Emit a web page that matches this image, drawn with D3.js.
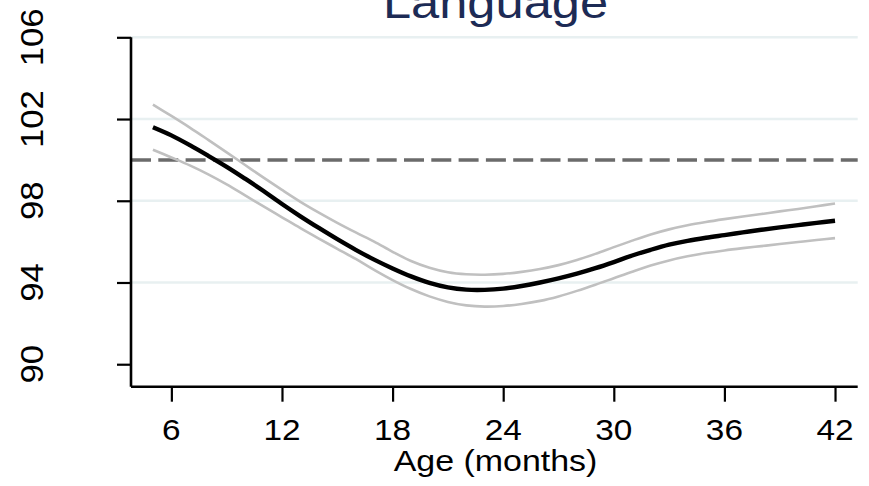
<!DOCTYPE html>
<html>
<head>
<meta charset="utf-8">
<script src="https://cdn.jsdelivr.net/npm/d3@7"></script>
<style>
  body { margin: 0; background: #fff; }
  text { font-family: "Liberation Sans", Arial, sans-serif; }
</style>
</head>
<body>
<div id="chart"></div>
<script>
// age in months, fitted score and its confidence band
var months = [5, 6, 7, 8, 9, 10, 11, 12, 13, 14, 15, 16, 17, 18, 19, 20, 21, 22, 23,
  24, 25, 26, 27, 28, 29, 30, 31, 32, 33, 34, 35, 36, 37, 38, 39, 40, 41, 42];
var fitted = [101.6, 101.2, 100.72, 100.2, 99.66, 99.08, 98.48, 97.84, 97.24, 96.67, 96.12,
  95.6, 95.12, 94.69, 94.3, 93.98, 93.76, 93.65, 93.64, 93.7, 93.83, 94.0, 94.2, 94.43,
  94.7, 95.0, 95.32, 95.6, 95.85, 96.04, 96.19, 96.32, 96.45, 96.58, 96.7, 96.81, 96.92, 97.02];
var upper = [102.7, 102.15, 101.58, 100.98, 100.37, 99.75, 99.13, 98.53, 97.95, 97.42, 96.92,
  96.45, 96.0, 95.5, 95.05, 94.72, 94.5, 94.4, 94.38, 94.42, 94.52, 94.66, 94.85, 95.1,
  95.4, 95.73, 96.05, 96.35, 96.6, 96.8, 96.96, 97.1, 97.23, 97.35, 97.48, 97.6, 97.73, 97.87];
var lower = [100.5, 100.12, 99.73, 99.29, 98.8, 98.26, 97.72, 97.19, 96.66, 96.15, 95.65,
  95.15, 94.62, 94.12, 93.68, 93.32, 93.05, 92.88, 92.82, 92.85, 92.95, 93.1, 93.32, 93.59,
  93.89, 94.21, 94.53, 94.83, 95.08, 95.28, 95.44, 95.57, 95.68, 95.78, 95.88, 95.98, 96.08, 96.17];
var reference = 100;
var xTicks = [6, 12, 18, 24, 30, 36, 42];
var yTicks = [90, 94, 98, 102, 106];
var gridTicks = [94, 98, 102, 106];

var width = 869, height = 486;
var plotLeft = 131, plotRight = 857.7, plotTop = 37.3, plotBottom = 386.7;

var svg = d3.select("#chart").append("svg")
  .attr("width", width)
  .attr("height", height);

var x = d3.scaleLinear().domain([3.81, 43.23]).range([plotLeft, plotRight]);
var y = d3.scaleLinear().domain([88.9, 106]).range([plotBottom, plotTop]);

// gridlines
svg.selectAll("line.grid").data(gridTicks).enter().append("line")
  .attr("class", "grid")
  .attr("x1", plotLeft).attr("x2", plotRight)
  .attr("y1", function(d) { return y(d); })
  .attr("y2", function(d) { return y(d); })
  .style("stroke", "#e8f0f1")
  .style("stroke-width", 2.5);

// reference line
svg.append("line")
  .attr("x1", plotLeft).attr("x2", plotRight)
  .attr("y1", y(reference)).attr("y2", y(reference))
  .style("stroke", "#6b6b6b")
  .style("stroke-width", 3.5)
  .style("stroke-dasharray", "20,7.3");

var line = function(vals) {
  return d3.line()
    .x(function(d, i) { return x(months[i]); })
    .y(function(d) { return y(d); })
    .curve(d3.curveCatmullRom)(vals);
};

[upper, lower].forEach(function(band) {
  svg.append("path")
    .attr("d", line(band))
    .style("fill", "none")
    .style("stroke", "#c0c0c0")
    .style("stroke-width", 2.6);
});

svg.append("path")
  .attr("d", line(fitted))
  .style("fill", "none")
  .style("stroke", "#000")
  .style("stroke-width", 4.4);

// axes
var xAxis = svg.append("g")
  .attr("transform", "translate(0," + plotBottom + ")")
  .call(d3.axisBottom(x).tickValues(xTicks).tickSize(15).tickFormat(""));
var yAxis = svg.append("g")
  .attr("transform", "translate(" + plotLeft + ",0)")
  .call(d3.axisLeft(y).tickValues(yTicks).tickSize(14).tickFormat(""));
[xAxis, yAxis].forEach(function(ax) {
  ax.select(".domain").remove();
  ax.selectAll(".tick line").style("stroke", "#000").style("stroke-width", 2.2);
});
svg.append("line")
  .attr("x1", plotLeft).attr("x2", plotRight).attr("y1", plotBottom).attr("y2", plotBottom)
  .style("stroke", "#000").style("stroke-width", 2.6);
svg.append("line")
  .attr("x1", plotLeft).attr("x2", plotLeft).attr("y1", plotTop).attr("y2", plotBottom)
  .style("stroke", "#000").style("stroke-width", 2.6);

svg.selectAll("text.xlab").data(xTicks).enter().append("text")
  .attr("class", "xlab")
  .attr("transform", function(d) { return "translate(" + x(d) + ",439.5) scale(1.15,1)"; })
  .style("text-anchor", "middle")
  .style("font-size", "29px")
  .text(function(d) { return d; });

svg.selectAll("text.ylab").data(yTicks).enter().append("text")
  .attr("class", "ylab")
  .attr("transform", function(d) { return "translate(43," + y(d) + ") rotate(-90) scale(1.12,1)"; })
  .style("text-anchor", "middle")
  .style("font-size", "31px")
  .text(function(d) { return d; });

svg.append("text")
  .attr("transform", "translate(495.5,470.5) scale(1.17,1)")
  .style("text-anchor", "middle")
  .style("font-size", "29px")
  .text("Age (months)");

svg.append("text")
  .attr("transform", "translate(495.5,17.5) scale(1.15,1)")
  .style("text-anchor", "middle")
  .style("font-size", "44px")
  .style("fill", "#1d2b55")
  .text("Language");
</script>
</body>
</html>
